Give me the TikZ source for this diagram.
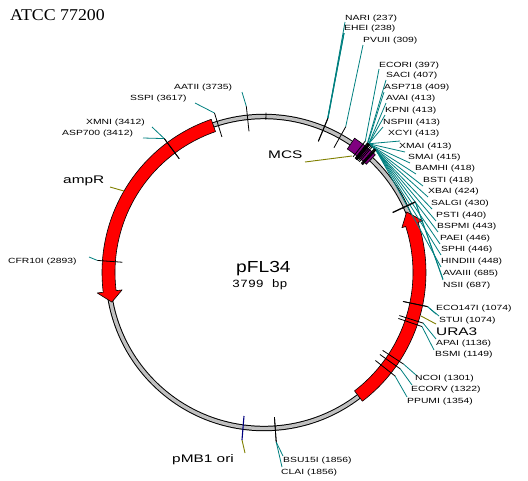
\documentclass[tikz,border=0pt]{standalone}
\usepackage{fontspec}
\setmainfont{Liberation Sans}
\newfontfamily\labfont[FakeStretch=1.38]{Liberation Sans}
\newfontfamily\bigfont[FakeStretch=1.4]{Liberation Sans}
\newfontfamily\titlefont[FakeStretch=1.08]{Liberation Serif}
\newfontfamily\namefont[FakeStretch=1.2]{Liberation Sans}
\newfontfamily\sizefont[FakeStretch=1.2]{Liberation Mono}
\definecolor{siteteal}{RGB}{0,128,128}
\definecolor{featolive}{RGB}{128,128,0}
\definecolor{ringgrey}{RGB}{192,192,192}
\definecolor{mcspurple}{RGB}{128,0,128}
\definecolor{orinavy}{RGB}{0,0,128}
\tikzset{
  sitelabel/.style={anchor=west,inner sep=0pt,font=\labfont\fontsize{7.5}{8}\selectfont,text=black},
  featlabel/.style={anchor=west,inner sep=0pt,font=\bigfont\fontsize{11}{12}\selectfont,text=black},
  sitetick/.style={black,line width=0.8pt},
  siteline/.style={siteteal,line width=0.8pt},
  featline/.style={featolive,line width=0.9pt},
  genearrow/.style={draw=black,fill=red,line width=0.6pt,line join=round},
}
\begin{document}
\begin{tikzpicture}[x=1pt,y=-1pt]
\useasboundingbox (0,0) rectangle (528,480);
\fill[white] (0,0) rectangle (528,480);
\coordinate (O) at (264,272.5);
% backbone
\draw[black,line width=5.4pt] (O) circle[radius=156pt];
\draw[ringgrey,line width=3.4pt] (O) circle[radius=156pt];
% URA3
\draw[genearrow] plot[domain=142.6:72,samples=50] ({264+162*sin(\x)},{272.5-162*cos(\x)})
  -- ([shift={(72-90:167)}]O) -- ([shift={(67-90:155)}]O) -- ([shift={(72-90:145)}]O)
  -- plot[domain=72:142.6,samples=50] ({264+149*sin(\x)},{272.5-149*cos(\x)}) -- cycle;
% ampR
\draw[genearrow] plot[domain=341:263,samples=50] ({264+162*sin(\x)},{272.5-162*cos(\x)})
  -- ([shift={(263-90:168)}]O) -- ([shift={(259-90:155)}]O) -- ([shift={(263-90:143)}]O)
  -- plot[domain=263:341,samples=50] ({264+149*sin(\x)},{272.5-149*cos(\x)}) -- cycle;
% MCS
\draw[draw=black,fill=mcspurple,line width=0.6pt] plot[domain=34:43.4,samples=8] ({264+162*sin(\x)},{272.5-162*cos(\x)})
  -- plot[domain=43.4:34,samples=8] ({264+149*sin(\x)},{272.5-149*cos(\x)}) -- cycle;
% small tick at the origin
\draw[sitetick] ([shift={(0.7-90:153)}]O) -- ([shift={(0.7-90:160)}]O);
% restriction sites
\foreach \nm/\lab/\bp/\lx/\ly/\ex/\ey/\rin/\rout in {
 nar/NARI (237)/237/345/18.5/345/22/142/167,
 ehe/EHEI (238)/238/344/29/344/33/142/167,
 pvu/PVUII (309)/309/363/41/363/45/143/167,
 eco/ECORI (397)/397/379/65.5/379/69/146/166,
 sac/SACI (407)/407/386/76/386/80/146/166,
 aspa/ASP718 (409)/409/384/88/384/92/146/166,
 ava/AVAI (413)/413/386/99/386/103/146/166,
 kpn/KPNI (413)/413/385/111/385/115/146/166,
 nsp/NSPIII (413)/413/383/123/383/127/146/166,
 xcy/XCYI (413)/413/388/134/400/141/146/166,
 xma/XMAI (413)/413/399/147/405/152/146/166,
 sma/SMAI (415)/415/408/158/410/163/146/166,
 bam/BAMHI (418)/418/415/169/416/174/146/166,
 bst/BSTI (418)/418/423/181/423/186/146/166,
 xba/XBAI (424)/424/428/192/428/197/146/166,
 sal/SALGI (430)/430/431/204/432/209/146/166,
 pst/PSTI (440)/440/436/216/436/221/146/166,
 bsp/BSPMI (443)/443/437/227/438/232/146/166,
 pae/PAEI (446)/446/440/239/440/244/146/166,
 sph/SPHI (446)/446/441/250/441/255/146/166,
 hin/HINDIII (448)/448/441/262/441/267/146/166,
 avi/AVAIII (685)/685/443/274/443/279/142/167,
 nsi/NSII (687)/687/443/286/443/280/142/167,
 ecq/ECO147I (1074)/1074/436/309/436/314/142/167,
 stu/STUI (1074)/1074/439/321/439/316/142/167,
 apa/APAI (1136)/1136/436/344/436/339/142/167,
 bsm/BSMI (1149)/1149/435/355/434/350/142/167,
 nco/NCOI (1301)/1301/415/379/416/375/142/167,
 ecv/ECORV (1322)/1322/411/390/412/385/142/167,
 ppu/PPUMI (1354)/1354/407/402/407/397/142/167,
 bsu/BSU15I (1856)/1856/283/461/283/456/145/170,
 cla/CLAI (1856)/1856/281/473/282/467/145/170,
 cfr/CFR10I (2893)/2893/8/262/89/257/142/167,
 asq/ASP700 (3412)/3412/62/134/143/138/142/167,
 xmn/XMNI (3412)/3412/86/123/152/127/142/167,
 ssp/SSPI (3617)/3617/130/99/195/103/142/167,
 aat/AATII (3735)/3735/174/88/242/92/142/167}{
  \pgfmathsetmacro\th{\bp/3799*360-90}
  \coordinate (\nm-in) at ([shift={(\th:\rin)}]O);
  \coordinate (\nm-out) at ([shift={(\th:\rout)}]O);
  \coordinate (\nm-end) at (\ex,\ey);
  \node[sitelabel] (\nm) at (\lx,\ly) {\lab};
  \draw[siteline] (\nm-out) -- (\nm-end);
  \draw[sitetick] (\nm-in) -- (\nm-out);
}
% thicker leader of NARI / EHEI
\draw[siteteal,line width=1.2pt] (nar-out) -- (ehe-end);
% features
\coordinate (mcsa) at (305,162);
\coordinate (mcsb) at (352,156);
\coordinate (ampa) at (110,187);
\coordinate (ampb) at (124,191);
\coordinate (uraa) at (421,316);
\coordinate (urab) at (436,324);
\coordinate (oriin) at (244,416);
\coordinate (oriout) at (242,440);
\coordinate (oriend) at (245,453);
\draw[featline] (mcsa) -- (mcsb);
\draw[featline] (ampa) -- (ampb);
\draw[featline] (uraa) -- (urab);
\draw[featline] (oriout) -- (oriend);
\draw[orinavy,line width=1.1pt] (oriin) -- (oriout);
\node[featlabel] (mcs) at (268,155) {MCS};
\node[featlabel] (ampr) at (63,181) {ampR};
\node[featlabel] (ura) at (436,332) {URA3};
\node[featlabel] (ori) at (172,460) {pMB1 ori};
\node[anchor=base west,inner sep=0pt,font=\titlefont\fontsize{16.5}{18}\selectfont] (title) at (10,20) {ATCC 77200};
\node[anchor=base west,inner sep=0pt,font=\namefont\fontsize{16}{18}\selectfont] (name) at (236,272) {pFL34};
\node[anchor=base west,inner sep=0pt,font=\sizefont\fontsize{11}{12}\selectfont] (size) at (232,287) {3799 bp};
\end{tikzpicture}
\end{document}
